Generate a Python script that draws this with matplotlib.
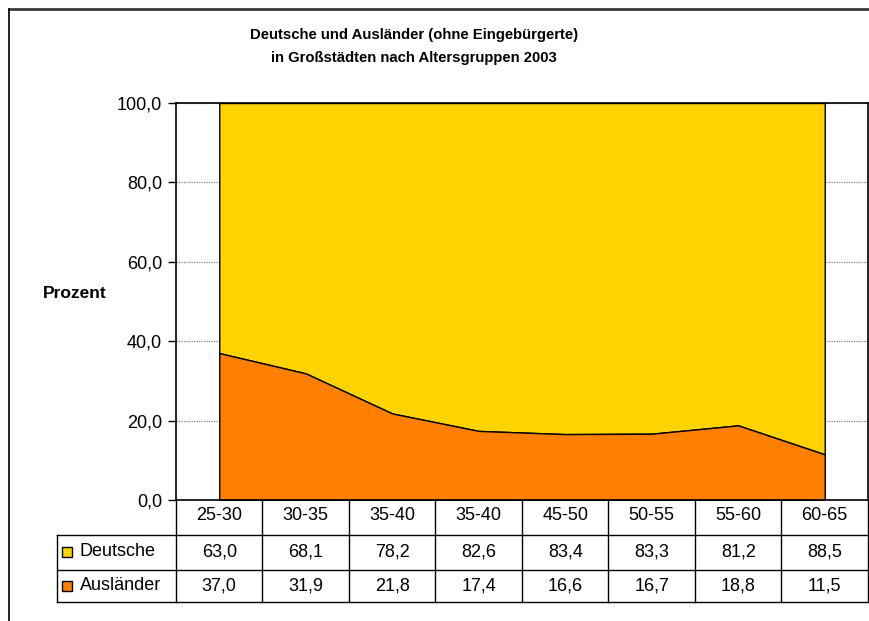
import numpy as np
import matplotlib.pyplot as plt
from matplotlib.lines import Line2D
from matplotlib.ticker import FuncFormatter
import matplotlib.transforms as mtransforms

plt.rcParams['font.family'] = ['Liberation Sans', 'DejaVu Sans']

# Daten
gruppen = ['25-30', '30-35', '35-40', '35-40', '45-50', '50-55', '55-60', '60-65']
deutsche = [63.0, 68.1, 78.2, 82.6, 83.4, 83.3, 81.2, 88.5]
auslaender = [37.0, 31.9, 21.8, 17.4, 16.6, 16.7, 18.8, 11.5]
reihen = ['Deutsche', 'Ausländer']
farben = ['#FFD300', '#FF7F00']

W, H = 870, 621
fig = plt.figure(figsize=(W / 100, H / 100), dpi=100)
ax = fig.add_axes([176 / W, 1 - 500 / H, (868 - 176) / W, (500 - 103) / H])

x = np.arange(len(gruppen)) + 0.5
ausl = np.array(auslaender)
deut = np.array(deutsche)

ax.fill_between(x, 0, ausl, facecolor=farben[1], edgecolor='black', linewidth=1, zorder=3)
ax.fill_between(x, ausl, ausl + deut, facecolor=farben[0], edgecolor='black', linewidth=1, zorder=2)

ax.set_xlim(0, len(gruppen))
ax.set_ylim(0, 100)
ax.set_yticks([0, 20, 40, 60, 80, 100])
ax.yaxis.set_major_formatter(FuncFormatter(lambda v, p: f"{v:.1f}".replace('.', ',')))
ax.tick_params(axis='y', direction='out', length=6, width=1, labelsize=13, pad=4)
ax.set_xticks([])
ax.grid(axis='y', linestyle=(0, (1, 1)), color='#808080', linewidth=0.9, zorder=1)
for s in ax.spines.values():
    s.set_linewidth(1.2)
    s.set_color('black')
    s.set_zorder(5)

ax.set_ylabel('Prozent', fontsize=12.5, fontweight='bold', rotation=0, labelpad=0)
ax.yaxis.set_label_coords(-0.147, 0.5)

# Titel
fig.text(414 / W, 1 - 35 / H, 'Deutsche und Ausländer (ohne Eingebürgerte)',
         ha='center', va='center', fontsize=10.7, fontweight='bold')
fig.text(414 / W, 1 - 58 / H, 'in Großstädten nach Altersgruppen 2003',
         ha='center', va='center', fontsize=10.7, fontweight='bold')

# Datentabelle
trans = mtransforms.blended_transform_factory(ax.transData, ax.transAxes)
px = 1 / 397.0
y_lines = [-35 * px, -70 * px, -102 * px]
y_text = [-15 * px, -52 * px, -86 * px]
x_leg = (57 - 176) / 86.4

kw = dict(transform=trans, clip_on=False, color='black', linewidth=1)
ax.plot([0, 0], [0, y_lines[2]], **kw)
for i in range(1, len(gruppen) + 1):
    ax.plot([i, i], [0, y_lines[2]], **kw)
ax.plot([x_leg, x_leg], [y_lines[0], y_lines[2]], **kw)
for yl in y_lines:
    ax.plot([x_leg, len(gruppen)], [yl, yl], **kw)

for i, g in enumerate(gruppen):
    ax.text(i + 0.5, y_text[0], g, transform=trans, ha='center', va='center', fontsize=13)
    ax.text(i + 0.5, y_text[1], f"{deutsche[i]:.1f}".replace('.', ','), transform=trans,
            ha='center', va='center', fontsize=13)
    ax.text(i + 0.5, y_text[2], f"{auslaender[i]:.1f}".replace('.', ','), transform=trans,
            ha='center', va='center', fontsize=13)

for r, name in enumerate(reihen):
    ax.plot([(67.5 - 176) / 86.4], [y_text[r + 1]], marker='s', markersize=7.5,
            markerfacecolor=farben[r], markeredgecolor='black', markeredgewidth=1,
            transform=trans, clip_on=False)
    ax.text((80 - 176) / 86.4, y_text[r + 1], name, transform=trans,
            ha='left', va='center', fontsize=13)

# Rahmen (nur oben und links sichtbar)
fig.lines.append(Line2D([9 / W, 1.0], [1 - 9 / H, 1 - 9 / H], transform=fig.transFigure,
                        color='#3a3a3a', linewidth=2))
fig.lines.append(Line2D([9 / W, 9 / W], [0, 1 - 9 / H], transform=fig.transFigure,
                        color='black', linewidth=1.2))

fig.savefig('out.png', dpi=100)
